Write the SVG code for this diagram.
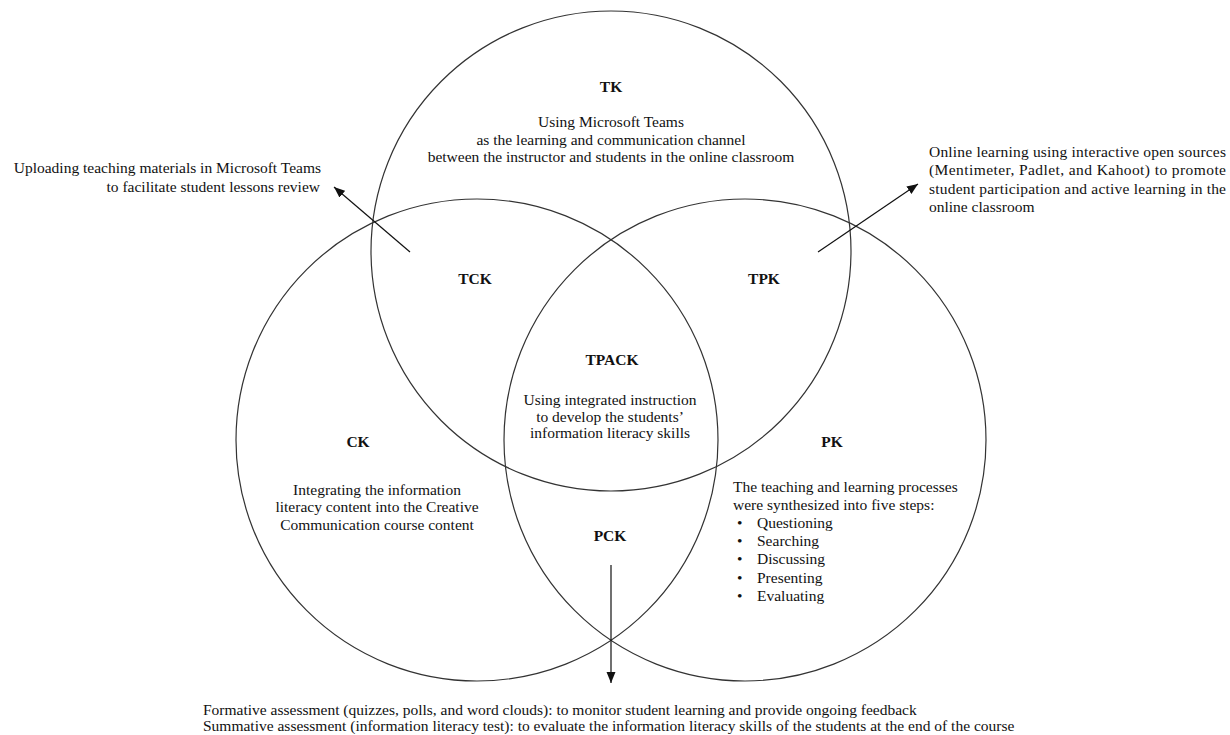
<svg xmlns="http://www.w3.org/2000/svg" width="1230" height="735" viewBox="0 0 1230 735">
<style>
.c{fill:none;stroke:#333;stroke-width:1.2}
.t{font-family:"Liberation Serif","Times New Roman",serif;font-size:15.5px;fill:#111}
.m{text-anchor:middle}
.e{text-anchor:end}
.b{font-weight:bold}
.a{fill:none;stroke:#111;stroke-width:1.2;marker-end:url(#ah)}
</style>
<defs>
<marker id="ah" markerUnits="userSpaceOnUse" markerWidth="12" markerHeight="10" refX="11" refY="4.5" orient="auto">
<path d="M0,0 L11,4.5 L0,9 z" fill="#111"/>
</marker>
</defs>
<rect width="1230" height="735" fill="#fff"/>
<g id="TK">
<circle class="c" cx="611" cy="251" r="240"/>
<text class="t m b" x="611" y="92">TK</text>
<text class="t m" x="611" y="127">Using Microsoft Teams</text>
<text class="t m" x="611" y="145">as the learning and communication channel</text>
<text class="t m" x="611" y="162">between the instructor and students in the online classroom</text>
</g>
<g id="CK">
<circle class="c" cx="477" cy="440" r="241"/>
<text class="t m b" x="358" y="447">CK</text>
<text class="t m" x="377" y="495">Integrating the information</text>
<text class="t m" x="377" y="512">literacy content into the Creative</text>
<text class="t m" x="377" y="530">Communication course content</text>
</g>
<g id="PK">
<circle class="c" cx="745" cy="440" r="241"/>
<text class="t m b" x="832" y="447">PK</text>
<text class="t" x="733" y="492">The teaching and learning processes</text>
<text class="t" x="733" y="510">were synthesized into five steps:</text>
<text class="t" x="737" y="528">•</text><text class="t" x="757" y="528">Questioning</text>
<text class="t" x="737" y="546">•</text><text class="t" x="757" y="546">Searching</text>
<text class="t" x="737" y="564">•</text><text class="t" x="757" y="564">Discussing</text>
<text class="t" x="737" y="583">•</text><text class="t" x="757" y="583">Presenting</text>
<text class="t" x="737" y="601">•</text><text class="t" x="757" y="601">Evaluating</text>
</g>
<g id="TCK">
<text class="t m b" x="475" y="284">TCK</text>
</g>
<g id="TPK">
<text class="t m b" x="764" y="284">TPK</text>
</g>
<g id="TPACK">
<text class="t m b" x="612" y="365">TPACK</text>
<text class="t m" x="610" y="405">Using integrated instruction</text>
<text class="t m" x="610" y="422">to develop the students’</text>
<text class="t m" x="610" y="438">information literacy skills</text>
</g>
<g id="PCK">
<text class="t m b" x="610" y="541">PCK</text>
</g>
<g id="note-TCK">
<text class="t e" x="321" y="173">Uploading teaching materials in Microsoft Teams</text>
<text class="t e" x="320" y="192">to facilitate student lessons review</text>
</g>
<g id="note-TPK">
<text class="t" x="929" y="157" textLength="297" lengthAdjust="spacing">Online learning using interactive open sources</text>
<text class="t" x="929" y="175" textLength="297" lengthAdjust="spacing">(Mentimeter, Padlet, and Kahoot) to promote</text>
<text class="t" x="929" y="194" textLength="297" lengthAdjust="spacing">student participation and active learning in the</text>
<text class="t" x="929" y="212">online classroom</text>
</g>
<g id="note-PCK">
<text class="t" x="203" y="715">Formative assessment (quizzes, polls, and word clouds): to monitor student learning and provide ongoing feedback</text>
<text class="t" x="203" y="731">Summative assessment (information literacy test): to evaluate the information literacy skills of the students at the end of the course</text>
</g>
<g id="connectors">
<line class="a" x1="410" y1="252" x2="334" y2="187"/>
<line class="a" x1="818" y1="252" x2="918" y2="184"/>
<line class="a" x1="611" y1="565" x2="611" y2="683"/>
</g>
</svg>
